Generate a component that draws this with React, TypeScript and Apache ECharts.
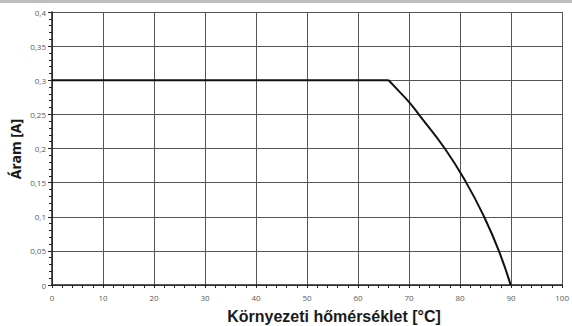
import React, { useEffect, useRef } from "react";
import * as echarts from "echarts";

// Derating curve: allowed current vs ambient temperature
// Constant rated current up to the knee
const flatTemps = [0, 66];
const flatCurrents = [0.3, 0.3];
// Derated region above the knee
const derateTemps = [66, 68, 70, 72, 77, 81.2, 84.7, 87.6, 89.9];
const derateCurrents = [0.3, 0.284, 0.268, 0.249, 0.2, 0.15, 0.1, 0.05, 0];

const xTitle = "Környezeti hőmérséklet [°C]";
const yTitle = "Áram [A]";

const comma = (v: number) => String(Math.round(v * 1000) / 1000).replace(".", ",");

export default function App() {
  const ref = useRef<HTMLDivElement>(null);

  useEffect(() => {
    if (!ref.current) return;
    const chart = echarts.init(ref.current, null, { renderer: "svg" });
    const gridLine = { show: true, lineStyle: { color: "#555", width: 1 } };
    const labelStyle = { color: "#5a5a5a", fontSize: 8, fontFamily: "Open Sans" };
    const curveStyle = { color: "#111", width: 2 };
    chart.setOption({
      animation: false,
      backgroundColor: "#fff",
      grid: { left: 52, right: 2, top: 12, bottom: 41, containLabel: false },
      xAxis: {
        type: "value",
        min: 0,
        max: 100,
        interval: 10,
        axisLine: { show: true, lineStyle: { color: "#222", width: 1.5 } },
        axisTick: { show: true, length: 3, lineStyle: { color: "#222" } },
        minorTick: { show: true, splitNumber: 5, length: 3, lineStyle: { color: "#222" } },
        axisLabel: { ...labelStyle, margin: 8, formatter: (v: number) => comma(v) },
        splitLine: gridLine,
      },
      yAxis: {
        type: "value",
        min: 0,
        max: 0.4,
        interval: 0.05,
        axisLine: { show: true, lineStyle: { color: "#222", width: 1.5 } },
        axisTick: { show: true, length: 4, lineStyle: { color: "#222" } },
        minorTick: { show: true, splitNumber: 5, length: 3, lineStyle: { color: "#222" } },
        axisLabel: { ...labelStyle, margin: 6, formatter: (v: number) => comma(v) },
        splitLine: gridLine,
      },
      series: [
        {
          type: "line",
          data: flatTemps.map((t, i) => [t, flatCurrents[i]]),
          showSymbol: false,
          lineStyle: curveStyle,
        },
        {
          type: "line",
          data: derateTemps.map((t, i) => [t, derateCurrents[i]]),
          showSymbol: false,
          smooth: 0.5,
          lineStyle: curveStyle,
        },
      ],
      graphic: [
        { type: "rect", left: 0, top: 0, shape: { width: 572, height: 3 }, style: { fill: "#bdbdbd" } },
        {
          type: "text",
          x: 334,
          y: 316,
          style: {
            text: xTitle,
            fill: "#1a1a1a",
            font: "bold 16px 'Liberation Sans'",
            align: "center",
            verticalAlign: "middle",
          },
        },
        {
          type: "text",
          x: 15,
          y: 149,
          rotation: Math.PI / 2,
          style: {
            text: yTitle,
            fill: "#1a1a1a",
            font: "bold 14px 'Noto Sans'",
            align: "center",
            verticalAlign: "middle",
          },
        },
      ],
    });
    return () => chart.dispose();
  }, []);

  return <div ref={ref} style={{ position: "fixed", left: 0, top: 0, width: 572, height: 326 }} />;
}
